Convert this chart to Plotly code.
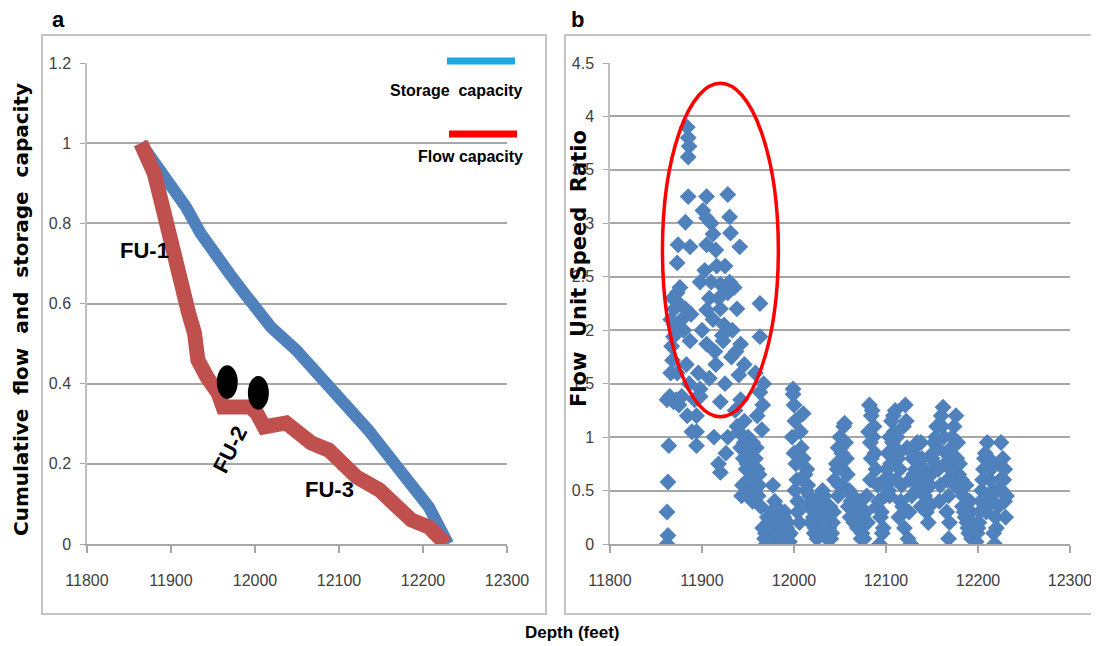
import plotly.graph_objects as go

# ---------------- Panel a data ----------------
depth_flow = [11864, 11880, 11888, 11896, 11905, 11913, 11921, 11928, 11932, 11943,
              11956, 11962, 11994, 12002, 12011, 12037, 12054, 12067, 12088, 12105,
              12121, 12148, 12164, 12186, 12207, 12227]
flow_capacity = [1.0, 0.925, 0.858, 0.783, 0.726, 0.651, 0.576, 0.526, 0.459, 0.416,
                 0.377, 0.342, 0.342, 0.327, 0.292, 0.302, 0.277, 0.252, 0.234, 0.202,
                 0.167, 0.135, 0.102, 0.060, 0.042, 0.0]

depth_storage = [11864, 11896, 11918, 11935, 11951, 11969, 11989, 12019, 12049, 12079,
                 12105, 12135, 12160, 12186, 12207, 12230]
storage_capacity = [1.0, 0.908, 0.840, 0.776, 0.726, 0.676, 0.621, 0.541, 0.484, 0.416,
                    0.359, 0.284, 0.217, 0.152, 0.092, 0.0]

# ---------------- Panel b data (flow unit speed ratio) ----------------
seg_depth = [
    [11862, 11863, 11862, 11863, 11864, 11862, 11865, 11867, 11869, 11866, 11868, 11869, 11867, 11866, 11870, 11868, 11870],
    [11872, 11875, 11878, 11873, 11873, 11875, 11873, 11874, 11876, 11878, 11880, 11882, 11882, 11884, 11885, 11886, 11885, 11885, 11887, 11888, 11887, 11883, 11886, 11884, 11889],
    [11892, 11894, 11894, 11894, 11898, 11898, 11896, 11898, 11900, 11901, 11903, 11905, 11905, 11905, 11905, 11905, 11908, 11908, 11910, 11910, 11912, 11912, 11913, 11914, 11915, 11915, 11916, 11918, 11918, 11920, 11920, 11920, 11920, 11922, 11923, 11924, 11925, 11925, 11926, 11928, 11928, 11928, 11930, 11930, 11931, 11932, 11933, 11935, 11936, 11937, 11938, 11938, 11940, 11940, 11941, 11942, 11942, 11942],
    [11943, 11944, 11945, 11946, 11946, 11948, 11950, 11950, 11952, 11953, 11955, 11955, 11956, 11958, 11958, 11960, 11960, 11962, 11962, 11963, 11963, 11963, 11965, 11967, 11966, 11964, 11966],
    [11968, 11970, 11972, 11974, 11976, 11977, 11978, 11979, 11980, 11982, 11984, 11986, 11988, 11990, 11991, 11993, 11995, 11996],
    [11998, 11999, 11999, 12000, 12001, 12000, 12002, 12003, 12001, 12004, 12004, 12006, 12007, 12008, 12010, 12010, 12012],
    [12014, 12015, 12017, 12019, 12021, 12023, 12025, 12027, 12029, 12031, 12033, 12035, 12037, 12038, 12040, 12042, 12026, 12030, 12036],
    [12044, 12046, 12048, 12050, 12052, 12054, 12055, 12056, 12057, 12058, 12060, 12062, 12048, 12052],
    [12064, 12066, 12068, 12070, 12072, 12074, 12076, 12078, 12080],
    [12082, 12084, 12085, 12087, 12086, 12088, 12089, 12091, 12092, 12094, 12093, 12096, 12098, 12099, 12084, 12083],
    [12102, 12104, 12106, 12108, 12110, 12110, 12112, 12114, 12115, 12117, 12116, 12114, 12119, 12121, 12122, 12120, 12124, 12127, 12125, 12106, 12104],
    [12126, 12129, 12131, 12134, 12136, 12138, 12140, 12142, 12144, 12146, 12133, 12138, 12148],
    [12150, 12152, 12155, 12157, 12159, 12160, 12162, 12163, 12165, 12167, 12168, 12166, 12168, 12171, 12172, 12174, 12176, 12177, 12179, 12181, 12183, 12186, 12189, 12192, 12170, 12175],
    [12198, 12200, 12202, 12204, 12206, 12208, 12210, 12212, 12213, 12215, 12217, 12218, 12219, 12221, 12223, 12225, 12227, 12228, 12229, 12230, 12226, 12211, 12209],
    [11946, 11949, 11951, 11954, 11957, 11959, 11961],
    [11969, 11971, 11973, 11975, 11981, 11983, 11985, 11987, 11989, 11992, 11994],
    [12013, 12016, 12018, 12020, 12022, 12024, 12028, 12032, 12039, 12041, 12043],
    [12047, 12049, 12051, 12053, 12059, 12061],
    [12065, 12067, 12069, 12071, 12073, 12075, 12077, 12079],
    [12081, 12083, 12090, 12095, 12097],
    [12101, 12103, 12105, 12107, 12109, 12111, 12113, 12118, 12123],
    [12128, 12130, 12132, 12135, 12137, 12139, 12141, 12143, 12145, 12147],
    [12149, 12151, 12153, 12154, 12156, 12158, 12161, 12164, 12169, 12173, 12178, 12180, 12182, 12184, 12185, 12187, 12188, 12190, 12191, 12193, 12194],
    [12199, 12201, 12203, 12205, 12207, 12214, 12216, 12220, 12222, 12224, 12229, 12231],
]
seg_ratio = [
    [0.0, 0.08, 0.3, 0.58, 0.92, 1.35, 1.38, 1.36, 1.33, 1.6, 1.72, 1.94, 1.85, 2.1, 2.2, 2.3, 2.05],
    [1.35, 1.3, 1.38, 1.6, 2.35, 2.25, 2.63, 2.8, 2.4, 2.1, 2.0, 2.2, 3.01, 3.9, 3.8, 3.72, 3.62, 3.25, 2.78, 2.15, 1.9, 1.68, 1.5, 1.2, 1.05],
    [1.35, 1.2, 1.05, 0.92, 1.45, 1.38, 1.6, 2.45, 2.0, 3.12, 2.56, 3.25, 3.05, 2.8, 2.19, 1.87, 1.55, 2.3, 3.0, 2.45, 2.9, 2.1, 1.0, 1.8, 2.75, 1.68, 2.6, 2.3, 0.75, 2.43, 2.2, 1.33, 0.67, 1.95, 1.9, 2.05, 1.5, 2.6, 0.85, 3.27, 2.35, 1.0, 3.06, 2.45, 2.91, 1.75, 2.0, 2.4, 1.25, 1.8, 2.2, 1.1, 1.58, 1.05, 2.78, 1.87, 1.35, 0.9],
    [0.45, 0.55, 0.8, 1.68, 1.15, 0.7, 0.6, 1.0, 0.5, 0.85, 0.95, 0.4, 0.65, 1.6, 0.8, 0.7, 1.2, 0.65, 0.55, 2.25, 1.94, 1.42, 1.07, 1.5, 1.3, 0.35, 0.15],
    [0.05, 0.0, 0.2, 0.1, 0.3, 0.55, 0.0, 0.4, 0.15, 0.05, 0.25, 0.0, 0.12, 0.3, 0.05, 0.2, 0.02, 0.1],
    [1.0, 1.45, 1.4, 1.3, 1.15, 0.85, 0.75, 0.6, 0.5, 0.4, 0.3, 0.2, 1.05, 0.9, 1.22, 0.8, 0.65],
    [0.7, 0.55, 0.45, 0.35, 0.25, 0.15, 0.05, 0.4, 0.3, 0.5, 0.45, 0.35, 0.25, 0.15, 0.05, 0.2, 0.2, 0.1, 0.05],
    [0.6, 0.75, 0.9, 1.0, 0.85, 1.1, 1.13, 0.95, 0.8, 0.65, 0.5, 0.4, 0.45, 0.55],
    [0.45, 0.35, 0.3, 0.2, 0.4, 0.1, 0.05, 0.3, 0.2],
    [1.3, 1.2, 1.25, 1.1, 1.0, 0.85, 0.7, 0.55, 0.4, 0.25, 0.0, 0.1, 0.6, 0.45, 0.8, 0.6],
    [0.85, 1.0, 1.15, 1.2, 1.25, 0.9, 1.0, 0.85, 0.7, 0.55, 0.4, 0.25, 1.1, 1.3, 1.15, 0.15, 0.05, 0.0, 0.3, 0.6, 0.45],
    [0.6, 0.8, 0.9, 0.95, 0.75, 0.95, 0.6, 0.45, 0.3, 0.2, 0.5, 0.35, 0.55],
    [0.8, 0.95, 1.1, 0.7, 0.55, 1.2, 1.28, 1.0, 0.85, 0.6, 0.45, 0.3, 0.05, 0.9, 1.0, 1.1, 1.2, 0.8, 0.65, 0.5, 0.35, 0.25, 0.15, 0.3, 0.7, 0.55],
    [0.02, 0.15, 0.3, 0.5, 0.7, 0.85, 0.95, 0.8, 0.6, 0.4, 0.1, 0.0, 0.25, 0.5, 0.75, 0.95, 0.8, 0.6, 0.4, 0.25, 0.5, 0.45, 0.3],
    [0.95, 0.75, 0.6, 0.7, 0.5, 0.9, 0.45],
    [0.1, 0.25, 0.05, 0.15, 0.35, 0.1, 0.2, 0.05, 0.25, 0.15, 0.08],
    [0.5, 0.35, 0.2, 0.4, 0.1, 0.3, 0.45, 0.2, 0.35, 0.1, 0.3],
    [0.7, 0.55, 0.9, 0.7, 0.35, 0.25],
    [0.2, 0.4, 0.15, 0.3, 0.05, 0.25, 0.2, 0.45],
    [1.05, 0.95, 0.35, 0.3, 0.15],
    [0.7, 0.5, 0.75, 0.95, 1.05, 0.6, 0.8, 0.35, 0.9],
    [0.45, 0.65, 0.7, 0.8, 0.55, 0.8, 0.7, 0.5, 0.4, 0.35],
    [0.65, 0.85, 0.75, 1.0, 0.9, 0.4, 1.1, 0.75, 0.2, 0.8, 0.95, 0.75, 0.6, 0.45, 0.3, 0.55, 0.2, 0.1, 0.4, 0.05, 0.2],
    [0.1, 0.2, 0.4, 0.6, 0.8, 0.7, 0.5, 0.15, 0.35, 0.6, 0.7, 0.45],
]
depth_b = []
ratio_b = []
for d, r in zip(seg_depth, seg_ratio):
    n = min(len(d), len(r))
    depth_b.extend(d[:n])
    ratio_b.extend(r[:n])

depth_ticks = [11800, 11900, 12000, 12100, 12200, 12300]
depth_labels = ["11800", "11900", "12000", "12100", "12200", "12300"]
cap_ticks = [0, 0.2, 0.4, 0.6, 0.8, 1.0, 1.2]
cap_labels = ["0", "0.2", "0.4", "0.6", "0.8", "1", "1.2"]
ratio_ticks = [0, 0.5, 1, 1.5, 2, 2.5, 3, 3.5, 4, 4.5]
ratio_labels = ["0", "0.5", "1", "1.5", "2", "2.5", "3", "3.5", "4", "4.5"]

# annotation positions (depth, value)
fu_labels = ["FU-1", "FU-2", "FU-3"]
fu_x = [11869, 11970, 12089]
fu_y = [0.731, 0.237, 0.135]
fu_angle = [0, -63, 0]
dot_x = [11967, 12004]
dot_y = [0.404, 0.377]

# page has an 8px body margin; figure is sized so it fits the 1099x646 window
OFF = 8
W, H = 1099 - OFF, 646 - OFF
def px(x):
    return (x - OFF) / W
def py(y):
    return (H - (y - OFF)) / H

BLUE = "#4f81bd"
RED = "#c0504d"
GRID = "#a6a6a6"
SANS = "Liberation Sans, Arial, sans-serif"
TICKFONT = dict(family=SANS, size=16, color="#404040")

fig = go.Figure()
fig.add_trace(go.Scatter(x=depth_storage, y=storage_capacity, mode="lines",
                         line=dict(color=BLUE, width=12), xaxis="x", yaxis="y",
                         showlegend=False, hoverinfo="skip"))
fig.add_trace(go.Scatter(x=depth_flow, y=flow_capacity, mode="lines",
                         line=dict(color=RED, width=15), xaxis="x", yaxis="y",
                         showlegend=False, hoverinfo="skip"))
fig.add_trace(go.Scatter(x=depth_b, y=ratio_b, mode="markers",
                         marker=dict(symbol="diamond", size=13, color=BLUE,
                                     line=dict(width=0)),
                         xaxis="x2", yaxis="y2", showlegend=False, hoverinfo="skip"))

xcommon = dict(range=[11800, 12300], tickvals=depth_ticks, ticktext=depth_labels,
               showgrid=False, zeroline=False, automargin=False,
               showline=True, linecolor=GRID, linewidth=2, ticks="outside", ticklen=7,
               tickcolor=GRID, tickwidth=1.5, tickfont=TICKFONT, ticklabelstandoff=14)
ycommon = dict(showgrid=True, gridcolor=GRID, gridwidth=2, zeroline=False, automargin=False,
               showline=True, linecolor="#bfbfbf", linewidth=1.5, ticks="outside",
               ticklen=5, tickcolor=GRID, tickfont=TICKFONT, ticklabelstandoff=6)

ydom = [py(544), py(63)]
fig.update_layout(
    template="none",
    width=W, height=H, margin=dict(l=0, r=0, t=0, b=0, pad=0, autoexpand=False),
    paper_bgcolor="white", plot_bgcolor="white",
    xaxis=dict(domain=[px(87), px(507)], anchor="y", **xcommon),
    yaxis=dict(domain=ydom, anchor="x", range=[0, 1.2], tickvals=cap_ticks,
               ticktext=cap_labels, **ycommon),
    xaxis2=dict(domain=[px(610), px(1070)], anchor="y2", **xcommon),
    yaxis2=dict(domain=ydom, anchor="x2", range=[0, 4.5], tickvals=ratio_ticks,
                ticktext=ratio_labels, **ycommon),
)

shapes = [
    dict(type="rect", xref="paper", yref="paper", x0=px(42), x1=px(546), y0=py(614), y1=py(35),
         line=dict(color="#c4c4c4", width=2), layer="below"),
    dict(type="rect", xref="paper", yref="paper", x0=px(565), x1=px(1120), y0=py(614), y1=py(35),
         line=dict(color="#c4c4c4", width=2), layer="below"),
    # legend swatches
    dict(type="line", xref="paper", yref="paper", x0=px(447), x1=px(515), y0=py(61), y1=py(61),
         line=dict(color="#1ba8e0", width=7)),
    dict(type="line", xref="paper", yref="paper", x0=px(449), x1=px(517), y0=py(134), y1=py(134),
         line=dict(color="#ff0000", width=7)),
    # red ellipse in panel b
    dict(type="circle", xref="x2", yref="y2", x0=11857, x1=11983, y0=1.19, y1=4.31,
         line=dict(color="#ff0000", width=3.5)),
]
for dx, dy in zip(dot_x, dot_y):
    shapes.append(dict(type="circle", xref="x", yref="y", x0=dx - 12.5, x1=dx + 12.5,
                       y0=dy - 0.042, y1=dy + 0.042, fillcolor="black",
                       line=dict(color="black", width=0)))
fig.update_layout(shapes=shapes)

ann = [
    dict(text="<b>a</b>", x=px(58), y=py(19), font=dict(family=SANS, size=22, color="black")),
    dict(text="<b>b</b>", x=px(577), y=py(19), font=dict(family=SANS, size=22, color="black")),
    dict(text="<b>Cumulative  flow  and  storage  capacity</b>", x=px(21), y=py(310), textangle=-90,
         font=dict(family="DejaVu Sans", size=20, color="black")),
    dict(text="<b>Flow  Unit Speed  Ratio</b>", x=px(579), y=py(269), textangle=-90,
         font=dict(family="DejaVu Sans", size=21, color="black")),
    dict(text="<b>Depth</b> <b>(feet)</b>", x=px(572), y=py(632),
         font=dict(family=SANS, size=17, color="black")),
    dict(text="<b>Storage  capacity</b>", x=px(525), y=py(91), xanchor="right",
         font=dict(family=SANS, size=16, color="black")),
    dict(text="<b>Flow capacity</b>", x=px(525), y=py(156), xanchor="right",
         font=dict(family=SANS, size=16, color="black")),
]
for a in ann:
    a.setdefault("xanchor", "center")
    fig.add_annotation(xref="paper", yref="paper", yanchor="middle", showarrow=False, **a)
for t, x, y, ang in zip(fu_labels, fu_x, fu_y, fu_angle):
    fig.add_annotation(text="<b>" + t + "</b>", x=x, y=y, xref="x", yref="y", showarrow=False,
                       textangle=ang, font=dict(family=SANS, size=22, color="black"))

fig.write_html("out.html")
